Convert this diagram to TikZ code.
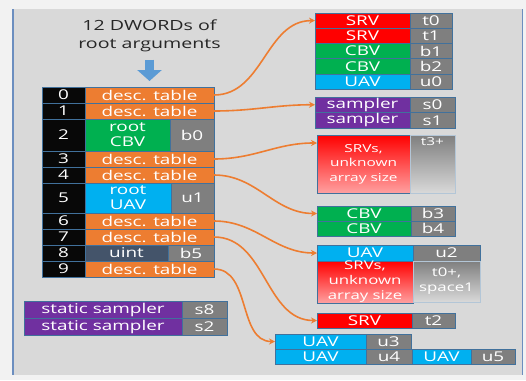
\documentclass[tikz,border=0pt]{standalone}
\usepackage{fontspec}
\setmainfont{Open Sans}[FakeStretch=1.4]
\usepackage{xcolor}
\usepackage{tikz}
\usetikzlibrary{calc,positioning,arrows.meta}
\definecolor{pagebg}{RGB}{242,242,242}
\definecolor{framebg}{RGB}{217,217,217}
\definecolor{frameline}{RGB}{108,142,191}
\definecolor{cellline}{RGB}{65,113,156}
\definecolor{descor}{RGB}{237,125,49}
\definecolor{srvred}{RGB}{255,0,0}
\definecolor{srvpale}{RGB}{255,160,160}
\definecolor{cbvgreen}{RGB}{0,176,80}
\definecolor{uavblue}{RGB}{0,176,240}
\definecolor{smpurple}{RGB}{112,48,160}
\definecolor{reggray}{RGB}{127,127,127}
\definecolor{uintslate}{RGB}{68,84,106}
\definecolor{idxblack}{RGB}{8,8,8}
\definecolor{titletext}{RGB}{38,38,38}
\definecolor{arrowblue}{RGB}{91,155,213}
\newcommand\cellfont{\fontsize{13.5}{15}\selectfont}
\newcommand\smallcellfont{\fontsize{11}{14.5}\selectfont}
\newcommand\midcellfont{\fontsize{12}{15}\selectfont}
\tikzset{
 cell/.style={draw=cellline, line width=0.4pt, anchor=north west,
        inner sep=0pt, outer sep=0pt, text=white,
        minimum height=16pt, font=\cellfont},
 idx/.style={cell, fill=idxblack, minimum width=43pt},
 desc/.style={cell, fill=descor, minimum width=129pt},
 reg/.style={cell, fill=reggray},
 fade/.style={cell, draw=cellline!40, top color=reggray, bottom color=framebg},
 link/.style={draw=descor, line width=1.6pt, -{Stealth[length=6pt,width=6pt]}},
 blockarrow/.style={draw=arrowblue, line width=9pt,
          -{Triangle[width=24pt,length=11pt]},
          shorten <=4pt, shorten >=6pt},
}
\begin{document}
\begin{tikzpicture}[x=1pt,y=-1pt]
\useasboundingbox (0,0) rectangle (526,380);
% frame
\fill[pagebg] (0,0) rectangle (526,380);
\fill[framebg] (13,9) rectangle (523,375);
\draw[frameline, line width=2pt] (13,9) -- (13,375);
\draw[frameline, line width=1.5pt] (522.5,9) -- (522.5,375);

\node[font=\fontsize{14}{18}\selectfont, text=titletext, align=center]
 (title) at (149.5,36) {12 DWORDs of\\root arguments};

% root signature: index column
\foreach \n/\y/\h in {0/87/16pt, 1/103/16pt, 2/119/32pt, 3/151/16pt,
 4/167/16pt, 5/183/30pt, 6/213/16pt, 7/229/16pt, 8/245/16pt, 9/261/16pt}{
 \node[idx, minimum height=\h] (idx\n) at (42,\y) {\n};
}
% descriptor tables
\foreach \n in {0,1,3,4,6,7,9}{
 \node[desc] (r\n) at (idx\n.north east) {desc. table};
}
% root descriptors and constants
\node[cell, fill=cbvgreen, minimum width=85pt, minimum height=32pt, align=center]
 (r2) at (idx2.north east) {root\\CBV};
\node[reg, minimum width=44pt, minimum height=32pt] (k2) at (r2.north east) {b0};
\node[cell, fill=uavblue, minimum width=86pt, minimum height=30pt, align=center]
 (r5) at (idx5.north east) {root\\UAV};
\node[reg, minimum width=43pt, minimum height=30pt] (k5) at (r5.north east) {u1};
\node[cell, fill=uintslate, minimum width=83pt] (r8) at (idx8.north east) {uint};
\node[reg, minimum width=46pt] (k8) at (r8.north east) {b5};

\draw[blockarrow] (title.south) -- (r0.north);

% static samplers
\foreach \r [count=\i] in {s8,s2}{
 \node[cell, fill=smpurple, minimum width=158pt, minimum height=17pt]
  (st\i) at (24,{301+(\i-1)*17}) {static sampler};
 \node[reg, minimum width=45pt, minimum height=17pt] (str\i) at (st\i.north east) {\r};
}

% table 0
\foreach \t/\r/\c [count=\i] in {SRV/t0/srvred, SRV/t1/srvred, CBV/b1/cbvgreen,
 CBV/b2/cbvgreen, UAV/u0/uavblue}{
 \node[cell, fill=\c, minimum width=95pt, minimum height=15.2pt]
  (a\i) at (315,{13+(\i-1)*15.2}) {\t};
 \node[reg, minimum width=42pt, minimum height=15.2pt] (ar\i) at (a\i.north east) {\r};
}
% table 1
\foreach \r [count=\i] in {s0,s1}{
 \node[cell, fill=smpurple, minimum width=95pt, minimum height=15.5pt]
  (b\i) at (315,{97+(\i-1)*15.5}) {sampler};
 \node[reg, minimum width=45pt, minimum height=15.5pt] (br\i) at (b\i.north east) {\r};
}
% table 3
\node[cell, top color=srvred, bottom color=srvpale, minimum width=93pt,
 minimum height=58pt, align=center, font=\smallcellfont]
 (c1) at (317,135) {SRVs,\\unknown\\array size};
\node[fade, minimum width=45pt, minimum height=58pt] (cr1) at (c1.north east) {};
\node[anchor=north, text=white, font=\smallcellfont, inner sep=2pt]
 (cl1) at (cr1.north) {t3+};
% table 4
\foreach \r [count=\i] in {b3,b4}{
 \node[cell, fill=cbvgreen, minimum width=94pt, minimum height=15pt]
  (d\i) at (317,{206+(\i-1)*15}) {CBV};
 \node[reg, minimum width=44pt, minimum height=15pt] (dr\i) at (d\i.north east) {\r};
}
% table 6
\node[cell, fill=uavblue, minimum width=96pt] (e1) at (317,245) {UAV};
\node[reg, minimum width=67pt] (er1) at (e1.north east) {u2};
\node[cell, top color=srvred, bottom color=srvpale, minimum width=96pt,
 minimum height=42pt, align=center, font=\midcellfont]
 (e2) at (e1.south west) {SRVs,\\unknown\\array size};
\node[fade, minimum width=67pt, minimum height=41pt, align=center, font=\midcellfont]
 (er2) at (e2.north east) {t0+,\\space1};
% table 7
\node[cell, fill=srvred, minimum width=95pt, minimum height=15pt] (f1) at (317,313) {SRV};
\node[reg, minimum width=43pt, minimum height=15pt] (fr1) at (f1.north east) {t2};
% table 9
\node[cell, fill=uavblue, minimum width=91pt, minimum height=15pt] (h1) at (275,334) {UAV};
\node[reg, minimum width=45pt, minimum height=15pt] (hr1) at (h1.north east) {u3};
\node[cell, fill=uavblue, minimum width=91pt, minimum height=15pt] (h2) at (h1.south west) {UAV};
\node[reg, minimum width=46pt, minimum height=15pt] (hr2) at (h2.north east) {u4};
\node[cell, fill=uavblue, minimum width=59pt, minimum height=15pt] (h3) at (hr2.north east) {UAV};
\node[reg, minimum width=44pt, minimum height=15pt] (hr3) at (h3.north east) {u5};

% links
\coordinate (cin) at ([yshift=-8pt]c1.north west);
\draw[link] (r0.east) to[out=0,in=180] (a1.west);
\draw[link] (r1.east) to[out=0,in=180] (b1.west);
\draw[link] (r3.east) to[out=0,in=180] (cin);
\draw[link] (r4.east) to[out=0,in=180] (d1.west);
\draw[link] (r6.east) to[out=0,in=180] (e1.west);
\draw[link] (r7.east) to[out=0,in=180] (f1.west);
\draw[link] (r9.east) to[out=0,in=180] (h1.west);
\end{tikzpicture}
\end{document}
